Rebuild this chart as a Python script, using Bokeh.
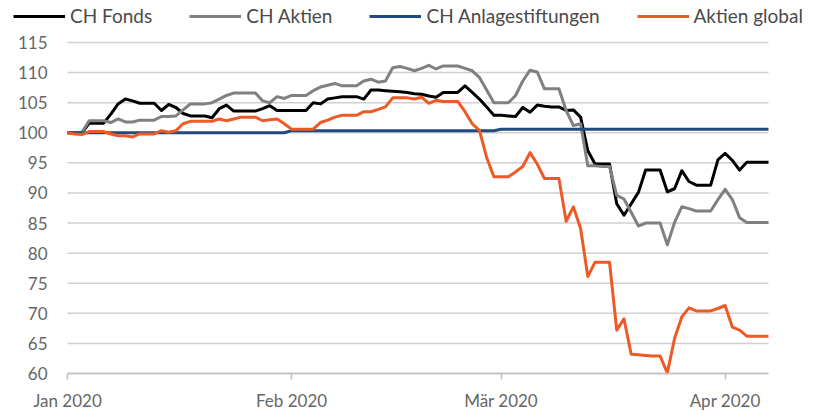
import pandas as pd
from bokeh.plotting import figure
from bokeh.models import Legend, LegendItem, FixedTicker, ColumnDataSource, Range1d
from bokeh.embed import file_html
from bokeh.resources import INLINE

# ---------------- data ----------------
start_date = "2020-01-01"
end_date = "2020-04-07"

ch_fonds = [
    100, 100, 100, 101.6, 101.6, 101.6, 103.1, 104.8, 105.6, 105.3,
    104.9, 104.9, 104.9, 103.7, 104.7, 104.2, 103.2, 102.8, 102.8, 102.8,
    102.5, 104.0, 104.6, 103.6, 103.6, 103.6, 103.6, 104.0, 104.5, 103.7,
    103.7, 103.7, 103.7, 103.7, 105.0, 104.8, 105.6, 105.8, 106.0, 106.0,
    106.0, 105.6, 107.1, 107.1, 107.0, 106.9, 106.8, 106.7, 106.5, 106.4,
    106.1, 105.9, 106.7, 106.7, 106.7, 107.8, 106.7, 105.6, 104.3, 102.9,
    102.9, 102.8, 102.7, 104.2, 103.4, 104.6, 104.4, 104.3, 104.3, 103.7,
    103.8, 102.6, 97.0, 94.8, 94.8, 94.8, 88.2, 86.3, 88.2, 90.1,
    93.8, 93.8, 93.8, 90.2, 90.7, 93.7, 91.9, 91.3, 91.3, 91.3,
    95.5, 96.6, 95.4, 93.8, 95.1, 95.1, 95.1, 95.1,
]

ch_aktien = [
    100, 100, 100.1, 102.0, 102.0, 102.0, 101.7, 102.3, 101.8, 101.8,
    102.1, 102.1, 102.1, 102.7, 102.7, 102.8, 103.8, 104.8, 104.8, 104.8,
    105.0, 105.6, 106.2, 106.6, 106.6, 106.6, 106.6, 105.3, 105.0, 106.0,
    105.7, 106.2, 106.2, 106.2, 107.0, 107.6, 107.9, 108.2, 107.8, 107.8,
    107.8, 108.6, 108.9, 108.4, 108.6, 110.8, 111.0, 110.7, 110.3, 110.7,
    111.2, 110.6, 111.1, 111.1, 111.1, 110.7, 110.3, 109.2, 107.1, 105.0,
    105.0, 105.0, 106.2, 108.6, 110.4, 110.1, 107.3, 107.3, 107.3, 103.7,
    101.2, 101.5, 94.5, 94.5, 94.4, 94.4, 89.6, 89.0, 86.8, 84.5,
    85.0, 85.0, 85.0, 81.4, 85.1, 87.7, 87.4, 87.0, 87.0, 87.0,
    88.9, 90.6, 88.9, 85.9, 85.1, 85.1, 85.1, 85.1,
]

ch_anlagestiftungen = [
    100.0, 100.0, 100.0, 100.0, 100.0, 100.0, 100.0, 100.0, 100.0, 100.0,
    100.0, 100.0, 100.0, 100.0, 100.0, 100.0, 100.0, 100.0, 100.0, 100.0,
    100.0, 100.0, 100.0, 100.0, 100.0, 100.0, 100.0, 100.0, 100.0, 100.0,
    100.0, 100.35, 100.35, 100.35, 100.35, 100.35, 100.35, 100.35, 100.35, 100.35,
    100.35, 100.35, 100.35, 100.35, 100.35, 100.35, 100.35, 100.35, 100.35, 100.35,
    100.35, 100.35, 100.35, 100.35, 100.35, 100.35, 100.35, 100.35, 100.35, 100.35,
    100.6, 100.6, 100.6, 100.6, 100.6, 100.6, 100.6, 100.6, 100.6, 100.6,
    100.6, 100.6, 100.6, 100.6, 100.6, 100.6, 100.6, 100.6, 100.6, 100.6,
    100.6, 100.6, 100.6, 100.6, 100.6, 100.6, 100.6, 100.6, 100.6, 100.6,
    100.6, 100.6, 100.6, 100.6, 100.6, 100.6, 100.6, 100.6,
]

aktien_global = [
    100, 99.8, 99.7, 100.2, 100.2, 100.2, 99.8, 99.5, 99.5, 99.3,
    99.8, 99.8, 99.8, 100.35, 100.1, 100.35, 101.5, 101.9, 101.9, 101.9,
    101.9, 102.3, 102.0, 102.3, 102.6, 102.6, 102.6, 102.0, 102.15, 102.3,
    101.5, 100.6, 100.6, 100.6, 100.6, 101.7, 102.1, 102.6, 102.9, 102.9,
    102.9, 103.5, 103.5, 103.9, 104.3, 105.8, 105.8, 105.8, 105.6, 105.9,
    104.9, 105.4, 105.2, 105.2, 105.2, 103.5, 101.5, 100.4, 95.9, 92.7,
    92.7, 92.7, 93.5, 94.4, 96.7, 94.8, 92.4, 92.4, 92.4, 85.3,
    87.7, 84.1, 76.1, 78.5, 78.5, 78.5, 67.2, 69.1, 63.2, 63.1,
    63.0, 62.9, 62.9, 60.1, 65.8, 69.4, 70.9, 70.4, 70.4, 70.4,
    70.8, 71.3, 67.7, 67.2, 66.2, 66.2, 66.2, 66.2,
]

series_names = ["CH Fonds", "CH Aktien", "CH Anlagestiftungen", "Aktien global"]
month_ticks = ["2020-01-01", "2020-02-01", "2020-03-01", "2020-04-01"]
month_labels = ["Jan 2020", "Feb 2020", "Mär 2020", "Apr 2020"]
y_ticks = [60, 65, 70, 75, 80, 85, 90, 95, 100, 105, 110, 115]
y_min, y_max = 60, 115

# ---------------- styles / layout ----------------
colors = ["#000000", "#808080", "#234a7e", "#ee5a26"]
FONT = "Lato"
LABEL_COLOR = "#666666"
GRID_COLOR = "#d0d0d0"
W, H = 812, 410
PLOT_LEFT, PLOT_RIGHT = 67, 768      # pixel edges of the data area
PLOT_TOP, PLOT_BOTTOM = 42, 373      # pixel edges of the data area

t0 = pd.Timestamp(start_date)
t1 = pd.Timestamp(end_date)
px_per_day = (PLOT_RIGHT - PLOT_LEFT) / (t1 - t0).days
px_per_unit = (PLOT_BOTTOM - PLOT_TOP) / (y_max - y_min)
x_lo = t0 - pd.Timedelta(days=PLOT_LEFT / px_per_day)
x_hi = t1 + pd.Timedelta(days=(W - PLOT_RIGHT) / px_per_day)
y_hi = y_max + PLOT_TOP / px_per_unit
y_lo = y_min - (H - PLOT_BOTTOM) / px_per_unit

dates = pd.date_range(start_date, end_date, freq="D")
source = ColumnDataSource(dict(
    date=dates,
    s0=ch_fonds, s1=ch_aktien, s2=ch_anlagestiftungen, s3=aktien_global,
))
grid_src = ColumnDataSource(dict(
    y=y_ticks, x0=[t0] * len(y_ticks), x1=[t1] * len(y_ticks),
))

p = figure(
    width=W, height=H,
    x_axis_type="datetime",
    x_range=Range1d(x_lo.to_pydatetime(), x_hi.to_pydatetime()),
    y_range=Range1d(y_lo, y_hi),
    output_backend="svg", toolbar_location=None,
    min_border_left=0, min_border_right=0, min_border_top=0, min_border_bottom=0,
)
p.outline_line_color = None
p.xgrid.grid_line_color = None
p.ygrid.grid_line_color = None

# horizontal gridlines over the data period only
p.segment(x0="x0", x1="x1", y0="y", y1="y", source=grid_src,
          line_color=GRID_COLOR, line_width=1.5)

renderers = []
for i, name in enumerate(series_names):
    r = p.line("date", f"s{i}", source=source, line_color=colors[i], line_width=3,
               line_join="round")
    renderers.append(r)

t0_ms = float(t0.value // 10**6)
t1_ms = float(t1.value // 10**6)
tick_ms = [float(pd.Timestamp(t).value // 10**6) for t in month_ticks]

p.xaxis.fixed_location = y_min
p.xaxis.bounds = (t0_ms, t1_ms)
p.xaxis.ticker = FixedTicker(ticks=tick_ms)
p.xaxis.major_label_overrides = {t: l for t, l in zip(tick_ms, month_labels)}
p.xaxis.axis_line_color = "#bfbfbf"
p.xaxis.axis_line_width = 1.5
p.xaxis.major_tick_line_color = "#bfbfbf"
p.xaxis.major_tick_line_width = 1.5
p.xaxis.major_tick_out = 6
p.xaxis.major_tick_in = 0
p.xaxis.minor_tick_line_color = None
p.xaxis.minor_tick_out = 0
p.xaxis.major_label_standoff = 10
p.xaxis.major_label_text_font = FONT
p.xaxis.major_label_text_font_size = "17px"
p.xaxis.major_label_text_color = LABEL_COLOR

p.yaxis.fixed_location = t0_ms
p.yaxis.bounds = (y_min, y_max)
p.yaxis.ticker = FixedTicker(ticks=y_ticks)
p.yaxis.axis_line_color = None
p.yaxis.major_tick_line_color = None
p.yaxis.minor_tick_line_color = None
p.yaxis.major_tick_out = 0
p.yaxis.major_tick_in = 0
p.yaxis.minor_tick_out = 0
p.yaxis.major_label_standoff = 20
p.yaxis.major_label_text_font = FONT
p.yaxis.major_label_text_font_size = "17px"
p.yaxis.major_label_text_color = LABEL_COLOR

legend = Legend(
    items=[LegendItem(label=n, renderers=[r]) for n, r in zip(series_names, renderers)],
    location=(13, H - 27),
    orientation="horizontal",
    padding=0, margin=0, spacing=37,
    glyph_width=52, glyph_height=22, label_height=22, label_standoff=5,
    label_text_font=FONT, label_text_font_size="19px", label_text_color="#4a4a4a",
    background_fill_alpha=0, border_line_color=None,
)
p.add_layout(legend)

open("out.html", "w").write(file_html(p, INLINE))
